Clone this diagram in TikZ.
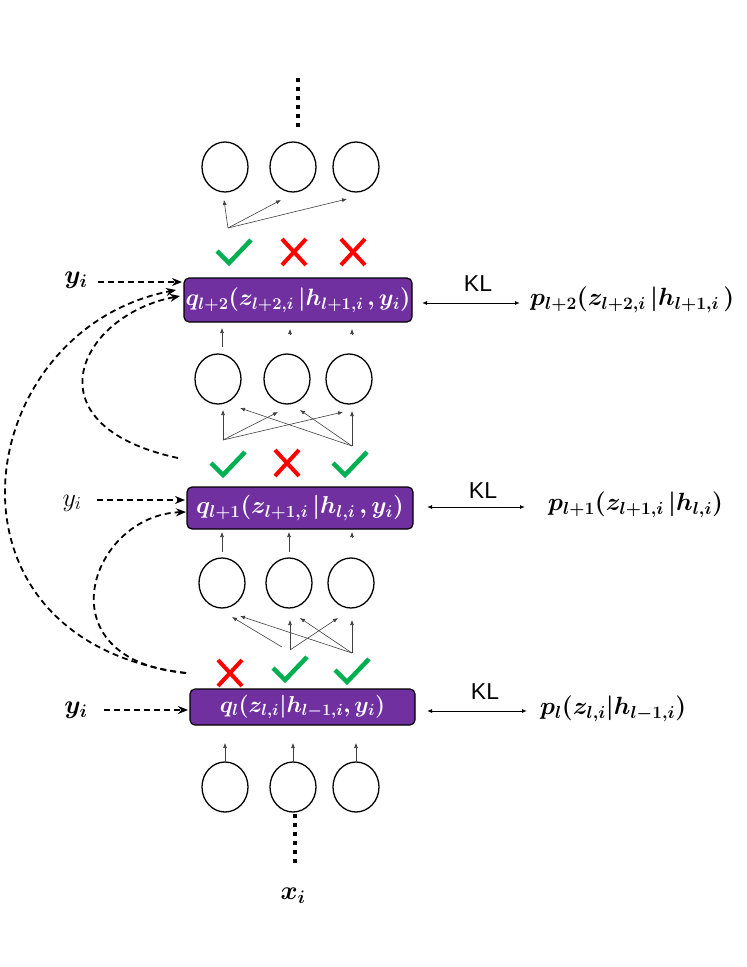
\RequirePackage{fix-cm}
\documentclass[tikz,border=0pt]{standalone}
\usepackage{amsmath,bm}
\usepackage{fontspec}
\newfontfamily\arialfont{Liberation Sans}
\usetikzlibrary{shapes.geometric,arrows.meta}
\definecolor{vpurple}{HTML}{7030A0}
\definecolor{vgreen}{HTML}{00B050}
\definecolor{vred}{HTML}{FF0000}
\tikzset{
  unit/.style={ellipse, draw, line width=1.3pt, minimum width=46pt, minimum height=50pt, inner sep=0pt},
  qbox/.style={rounded corners=5pt, draw=black, line width=1.2pt, fill=vpurple, text=white, inner sep=0pt, font=\fontsize{24}{28}\selectfont},
  conn/.style={-{Latex[length=5pt,width=4pt]}, line width=0.6pt, draw=black!75},
  ydash/.style={dash pattern=on 6pt off 4pt, -{Stealth[length=10pt,width=8pt]}, line width=1.8pt},
  kl/.style={{Latex[length=5pt,width=4pt]}-{Latex[length=5pt,width=4pt]}, line width=1pt},
  lbl/.style={inner sep=0pt, font=\fontsize{26}{30}\selectfont},
  plbl/.style={inner sep=0pt, anchor=west, font=\fontsize{24.9}{28}\selectfont},
  kltxt/.style={inner sep=0pt, font=\arialfont\fontsize{23}{26}\selectfont},
  dots/.style={line width=4pt, dash pattern=on 4pt off 5pt},
  chk/.pic={\draw[vgreen, line width=4.5pt] (-12,-12) -- (0,0) -- (22,-23);},
  crs/.pic={\draw[vred, line width=4pt] (-12,-13) -- (12,13) (-12,13) -- (12,-13);}
}
\begin{document}
\begin{tikzpicture}[x=1pt,y=-1pt]
\useasboundingbox (0,0) rectangle (747,967);

% top dots
\coordinate (dt1) at (298,78);
\coordinate (dt2) at (298,130);
\draw[dots] (dt1) -- (dt2);

% circles
\node[unit] (c11) at (225,167) {};
\node[unit] (c12) at (293,167) {};
\node[unit] (c13) at (356,167) {};
\node[unit] (c21) at (218,379) {};
\node[unit] (c22) at (287,379) {};
\node[unit] (c23) at (349,379) {};
\node[unit] (c31) at (222,583) {};
\node[unit] (c32) at (289,583) {};
\node[unit] (c33) at (351,583) {};
\node[unit] (c41) at (225,787) {};
\node[unit] (c42) at (293,787) {};
\node[unit] (c43) at (356,787) {};

% boxes
\node[qbox, minimum width=228pt, minimum height=44pt, font=\fontsize{23.6}{27}\selectfont] (q1) at (298,300) {$\bm{q_{l+2}(z_{l+2,i}\,|h_{l+1,i}\,,y_i)}$};
\node[qbox, minimum width=226pt, minimum height=42pt, font=\fontsize{24.4}{28}\selectfont] (q2) at (300,508) {$\bm{q_{l+1}(z_{l+1,i}\,|h_{l,i}\,,y_i)}$};
\node[qbox, minimum width=225pt, minimum height=36pt, font=\fontsize{23}{26}\selectfont] (q3) at (302.5,707) {$\bm{q_{l}(z_{l,i}|h_{l-1,i},y_i)}$};

% checks / crosses
\pic at (229,263) {chk};
\pic at (294,252) {crs};
\pic at (353,252) {crs};
\pic at (223,475) {chk};
\pic at (287,463) {crs};
\pic at (345,475) {chk};
\pic at (230,673) {crs};
\pic at (285,680) {chk};
\pic at (347,682) {chk};

% top connectors
\coordinate (t0) at (228,228);
\coordinate (ta1) at (224,200);
\coordinate (ta2) at (281,200);
\coordinate (ta3) at (347,199);
\draw[conn] (t0) -- (ta1);
\draw[conn] (t0) -- (ta2);
\draw[conn] (t0) -- (ta3);

% row 2 to box 1
\coordinate (u1s) at (222,347); \coordinate (u1e) at (222,328);
\coordinate (u2s) at (290,335); \coordinate (u2e) at (290,329);
\coordinate (u3s) at (352,335); \coordinate (u3e) at (352,329);
\draw[conn] (u1s) -- (u1e);
\draw[conn] (u2s) -- (u2e);
\draw[conn] (u3s) -- (u3e);

% below row 2
\coordinate (s21) at (223,440);
\coordinate (s22) at (352,446);
\coordinate (e21) at (223,410);
\coordinate (e22) at (278,412);
\coordinate (e23) at (343,412);
\coordinate (e24) at (352,411);
\coordinate (e25) at (240,408);
\coordinate (e26) at (300,410);
\draw[conn] (s21) -- (e21);
\draw[conn] (s21) -- (e22);
\draw[conn] (s21) -- (e23);
\draw[conn] (s22) -- (e24);
\draw[conn] (s22) -- (e25);
\draw[conn] (s22) -- (e26);

% row 3 to box 2
\coordinate (v1s) at (222,552); \coordinate (v1e) at (222,532);
\coordinate (v2s) at (289,552); \coordinate (v2e) at (289,532);
\coordinate (v3s) at (352,538); \coordinate (v3e) at (352,532);
\draw[conn] (v1s) -- (v1e);
\draw[conn] (v2s) -- (v2e);
\draw[conn] (v3s) -- (v3e);

% below row 3
\coordinate (s31) at (282,647);
\coordinate (s32) at (290,650);
\coordinate (s33) at (352,653);
\coordinate (e31) at (232,617);
\coordinate (e32) at (290,620);
\coordinate (e33) at (338,618);
\coordinate (e34) at (352,620);
\coordinate (e35) at (300,618);
\coordinate (e36) at (240,616);
\draw[conn] (s31) -- (e31);
\draw[conn] (s32) -- (e32);
\draw[conn] (s32) -- (e33);
\draw[conn] (s33) -- (e34);
\draw[conn] (s33) -- (e35);
\draw[conn] (s33) -- (e36);

% bottom row to box 3
\coordinate (w1) at (225,743);
\coordinate (w2) at (293,743);
\coordinate (w3) at (356,743);
\draw[conn] (c41.north) -- (w1);
\draw[conn] (c42.north) -- (w2);
\draw[conn] (c43.north) -- (w3);

% bottom dots and x_i
\coordinate (db1) at (295,814);
\coordinate (db2) at (295,864);
\draw[dots] (db1) -- (db2);
\node[lbl] (xi) at (293,896) {$\bm{x_i}$};

% y_i inputs
\node[lbl] (y1) at (76,280) {$\bm{y_i}$};
\node[lbl] (y2) at (72,503) {$y_i$};
\node[lbl] (y3) at (76,710) {$\bm{y_i}$};
\coordinate (y1s) at (98,282);
\coordinate (y2s) at (97,500);
\coordinate (y3s) at (104,710);
\coordinate (y1e) at (182,282);
\coordinate (y2e) at (185,500);
\coordinate (y3e) at (188,710);
\draw[ydash] (y1s) -- (y1e);
\draw[ydash] (y2s) -- (y2e);
\draw[ydash] (y3s) -- (y3e);

% skip connections
\coordinate (k1s) at (178,458);
\coordinate (k1e) at (180,296);
\coordinate (k2s) at (186,673);
\coordinate (k2e) at (176,290);
\coordinate (k3e) at (186,512);
\draw[ydash] (k1s) .. controls (25,425) and (80,315) .. (k1e);
\draw[ydash] (k2s) .. controls (-75,640) and (-30,330) .. (k2e);
\draw[ydash] (k2s) .. controls (40,660) and (90,515) .. (k3e);

% KL
\coordinate (kl1a) at (422,303); \coordinate (kl1b) at (520,303);
\coordinate (kl2a) at (427,507); \coordinate (kl2b) at (525,507);
\coordinate (kl3a) at (427,711); \coordinate (kl3b) at (527,711);
\draw[kl] (kl1a) -- (kl1b);
\draw[kl] (kl2a) -- (kl2b);
\draw[kl] (kl3a) -- (kl3b);
\node[kltxt] (kt1) at (478,284) {KL};
\node[kltxt] (kt2) at (483,491) {KL};
\node[kltxt] (kt3) at (485,692) {KL};

\node[plbl] (p1) at (530,300) {$\bm{p_{l+2}(z_{l+2,i}\,|h_{l+1,i}\,)}$};
\node[plbl] (p2) at (548,505) {$\bm{p_{l+1}(z_{l+1,i}\,|h_{l,i})}$};
\node[plbl] (p3) at (540,709) {$\bm{p_{l}(z_{l,i}|h_{l-1,i})}$};
\end{tikzpicture}
\end{document}
